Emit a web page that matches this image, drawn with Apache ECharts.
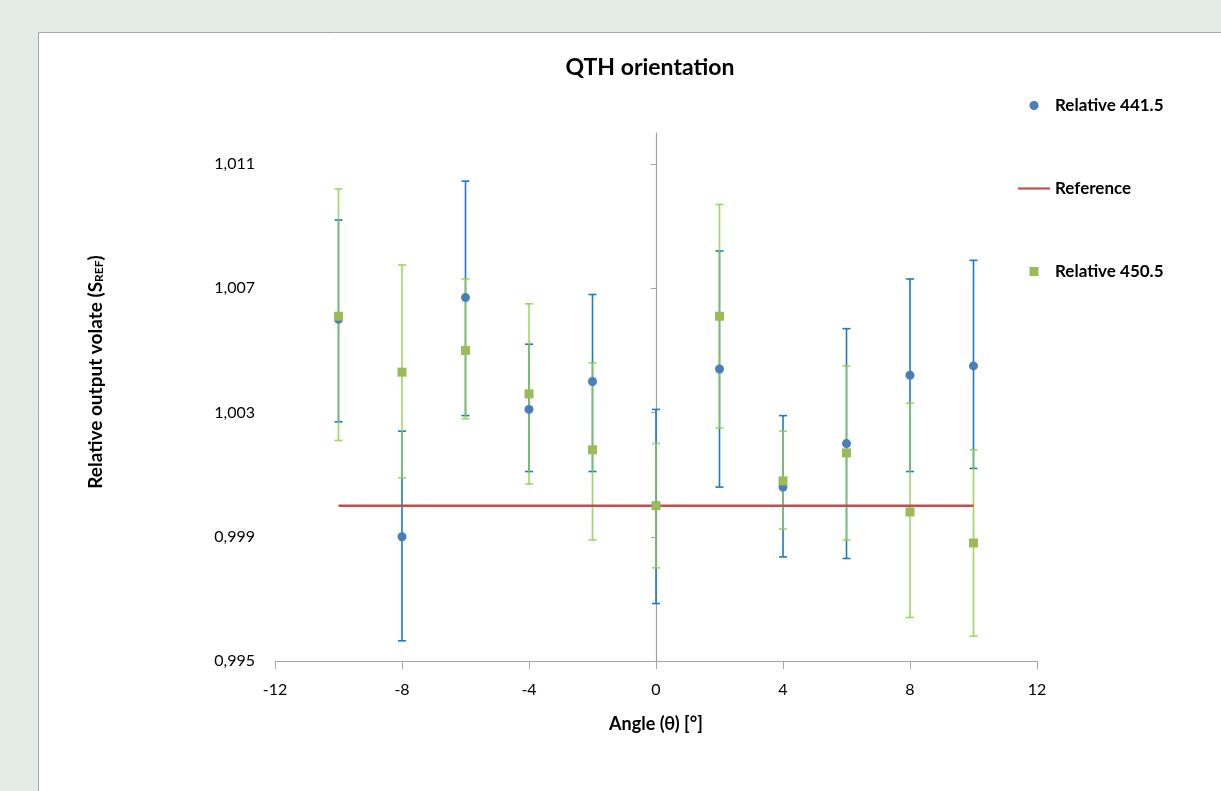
<!DOCTYPE html>
<html>
<head>
<meta charset="utf-8">
<script src="https://cdn.jsdelivr.net/npm/echarts@6/dist/echarts.min.js"></script>
<style>
  html, body { margin: 0; padding: 0; background: #e4ece8; }
  #chart { width: 1221px; height: 791px; }
</style>
</head>
<body>
<div id="chart"></div>
<script>
// ---- data ----
const angles = [-10, -8, -6, -4, -2, 0, 2, 4, 6, 8, 10];

const rel4415     = [1.0060, 0.9990, 1.0067, 1.0031, 1.0040, 1.0000, 1.0044, 1.0006, 1.0020, 1.0042, 1.0045];
const rel4415Low  = [1.0027, 0.99565, 1.0029, 1.0011, 1.0011, 0.99685, 1.0006, 0.99835, 0.9983, 1.0011, 1.0012];
const rel4415High = [1.0092, 1.0024, 1.01045, 1.0052, 1.0068, 1.0031, 1.0082, 1.0029, 1.0057, 1.0073, 1.0079];

const rel4505     = [1.0061, 1.0043, 1.0050, 1.0036, 1.0018, 1.0000, 1.0061, 1.0008, 1.0017, 0.9998, 0.9988];
const rel4505Low  = [1.0021, 1.0009, 1.0028, 1.0007, 0.9989, 0.9980, 1.0025, 0.99925, 0.9989, 0.9964, 0.9958];
const rel4505High = [1.0102, 1.00775, 1.0073, 1.0065, 1.0046, 1.0020, 1.0097, 1.0024, 1.0045, 1.0033, 1.0018];

const refX = [-10, 10];
const refY = [1.0, 1.0];

const yTickValues = [0.995, 0.999, 1.003, 1.007, 1.011];
const yTickLabels = ['0,995', '0,999', '1,003', '1,007', '1,011'];

// ---- build ----
const FONT = 'Lato, "Open Sans", sans-serif';

function errData(xs, lo, hi) {
  return xs.map((x, i) => [x, lo[i], hi[i]]);
}
function errRender(color, opacity) {
  return function (params, api) {
    const x = api.value(0);
    const lo = api.coord([x, api.value(1)]);
    const hi = api.coord([x, api.value(2)]);
    const hw = 4;
    const style = { stroke: color, lineWidth: 1.6, opacity: opacity };
    return {
      type: 'group',
      children: [
        { type: 'line', shape: { x1: lo[0], y1: lo[1], x2: hi[0], y2: hi[1] }, style: style },
        { type: 'line', shape: { x1: lo[0] - hw, y1: lo[1], x2: lo[0] + hw, y2: lo[1] }, style: style },
        { type: 'line', shape: { x1: hi[0] - hw, y1: hi[1], x2: hi[0] + hw, y2: hi[1] }, style: style }
      ]
    };
  };
}

const chart = echarts.init(document.getElementById('chart'), null, { renderer: 'canvas' });

chart.setOption({
  backgroundColor: '#e4ece8',
  animation: false,
  graphic: [{
    type: 'rect', left: 38, top: 32, silent: true, z: -10,
    shape: { width: 1300, height: 900 },
    style: { fill: '#ffffff', stroke: '#a6a6a6', lineWidth: 1 }
  }],
  title: {
    text: 'QTH orientation',
    left: 645, top: 51, textAlign: 'center',
    textStyle: { fontFamily: FONT, fontWeight: 'bold', fontSize: 23, color: '#000' }
  },
  legend: {
    orient: 'vertical',
    left: 1013, top: 92,
    itemWidth: 32, itemHeight: 9,
    itemGap: 66,
    symbolKeepAspect: true,
    textStyle: { fontFamily: FONT, fontWeight: 'bold', fontSize: 17, color: '#000' },
    data: [
      { name: 'Relative 441.5', icon: 'circle' },
      { name: 'Reference', icon: 'path://M0,0L32,0L32,2.2L0,2.2Z' },
      { name: 'Relative 450.5', icon: 'path://M0,0L10,0L10,10L0,10Z' }
    ]
  },
  grid: { left: 275, right: 184, top: 133, bottom: 130, containLabel: false },
  xAxis: {
    type: 'value', min: -12, max: 12, interval: 4,
    name: 'Angle (θ) [°]', nameLocation: 'middle', nameGap: 54,
    nameTextStyle: { fontFamily: FONT, fontWeight: 'bold', fontSize: 18, color: '#000' },
    axisLine: { onZero: false, lineStyle: { color: '#a6a6a6', width: 1 } },
    axisTick: { length: 8, lineStyle: { color: '#a6a6a6' } },
    axisLabel: { fontFamily: FONT, fontSize: 16, color: '#000', margin: 21 },
    splitLine: { show: false }
  },
  yAxis: [{
    type: 'value', min: 0.995, max: 1.012, interval: 0.004, position: 'left',
    name: 'Relative output volate (S{sub|REF})',
    nameLocation: 'middle', nameRotate: 90, nameGap: 170,
    nameTextStyle: {
      fontFamily: FONT, fontWeight: 'bold', fontSize: 19, color: '#000',
      padding: [0, 0, 0, 50],
      rich: { sub: { fontFamily: FONT, fontWeight: 'bold', fontSize: 12, color: '#000', verticalAlign: 'bottom', padding: [6, 0, 0, 0] } }
    },
    axisLine: { show: false, onZero: false },
    axisTick: { show: false },
    axisLabel: {
      fontFamily: FONT, fontSize: 16, color: '#000', margin: 20,
      customValues: yTickValues,
      formatter: function (v) {
        const i = yTickValues.findIndex(t => Math.abs(t - v) < 1e-7);
        return i >= 0 ? yTickLabels[i] : '';
      }
    },
    splitLine: { show: false }
  }, {
    type: 'value', min: 0.995, max: 1.012, interval: 0.004, position: 'left',
    axisLine: { show: true, onZero: true, lineStyle: { color: '#a0a0a0', width: 1.2 } },
    axisTick: { show: true, length: 5, customValues: yTickValues, lineStyle: { color: '#a0a0a0' } },
    axisLabel: { show: false },
    splitLine: { show: false }
  }],
  series: [
    {
      name: 'err441', type: 'custom', z: 2,
      renderItem: errRender('#1a7ac6', 1),
      data: errData(angles, rel4415Low, rel4415High),
      encode: { x: 0, y: [1, 2] }, silent: true
    },
    {
      name: 'err450', type: 'custom', z: 3,
      renderItem: errRender('#8fce4c', 0.85),
      data: errData(angles, rel4505Low, rel4505High),
      encode: { x: 0, y: [1, 2] }, silent: true
    },
    {
      name: 'Reference', type: 'line', z: 4,
      data: refX.map((x, i) => [x, refY[i]]),
      symbol: 'none',
      lineStyle: { color: '#c0504d', width: 2.4 },
      itemStyle: { color: '#c0504d' }
    },
    {
      name: 'Relative 441.5', type: 'scatter', z: 5,
      data: angles.map((x, i) => [x, rel4415[i]]),
      symbol: 'circle', symbolSize: 9,
      itemStyle: { color: '#4a7ebb', opacity: 1 }
    },
    {
      name: 'Relative 450.5', type: 'scatter', z: 6,
      data: angles.map((x, i) => [x, rel4505[i]]),
      symbol: 'rect', symbolSize: 9,
      itemStyle: { color: '#9bbb59', opacity: 1 }
    }
  ]
});
</script>
</body>
</html>
